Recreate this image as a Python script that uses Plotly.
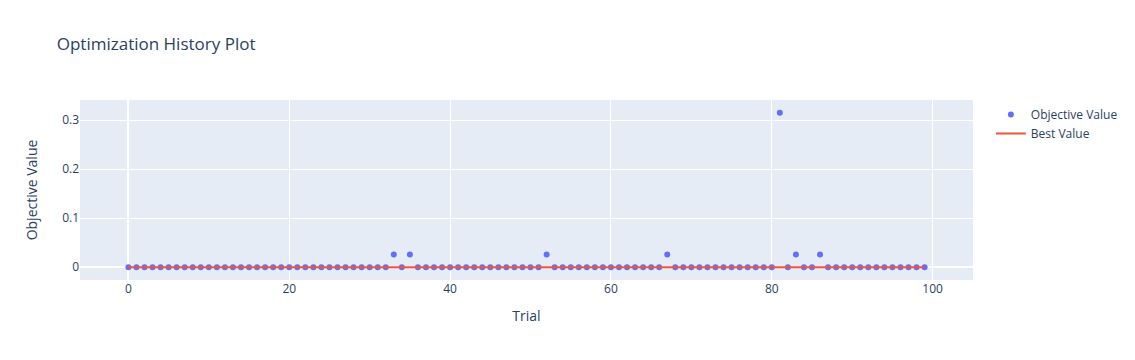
import plotly.graph_objects as go

trials = list(range(100))
outliers = {33: 0.026, 35: 0.026, 52: 0.026, 67: 0.026, 81: 0.315, 83: 0.026, 86: 0.026}
objective_values = [outliers.get(t, 0.0) for t in trials]
best_values = []
cur = None
for v in objective_values:
    cur = v if cur is None else min(cur, v)
    best_values.append(cur)

fig = go.Figure()
fig.add_trace(go.Scatter(x=trials, y=objective_values, mode="markers", name="Objective Value"))
fig.add_trace(go.Scatter(x=trials, y=best_values, mode="lines", name="Best Value"))
fig.update_layout(
    title="Optimization History Plot",
    xaxis_title="Trial",
    yaxis_title="Objective Value",
    width=1135,
    height=360,
)
fig.update_yaxes(title_standoff=21)
fig.write_html("out.html")
